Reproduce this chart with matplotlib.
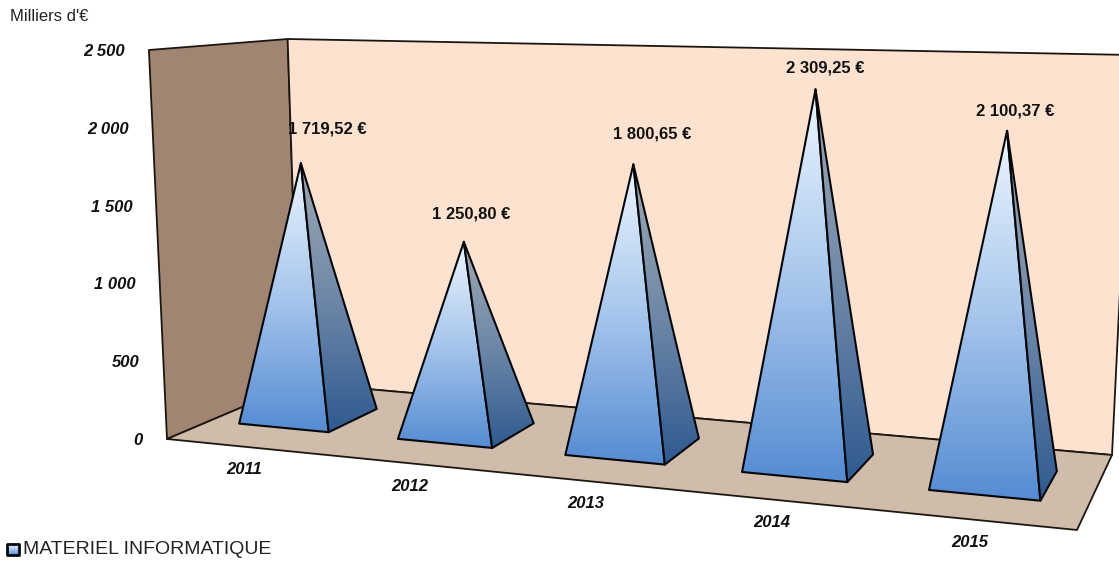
import numpy as np
import matplotlib
matplotlib.use('Agg')
import matplotlib.pyplot as plt
from matplotlib.colors import LinearSegmentedColormap
from matplotlib.patches import Polygon

years = ['2011', '2012', '2013', '2014', '2015']
values = [1719.52, 1250.80, 1800.65, 2309.25, 2100.37]
value_labels = ['1 719,52 €', '1 250,80 €', '1 800,65 €', '2 309,25 €', '2 100,37 €']
ticks = [0, 500, 1000, 1500, 2000, 2500]
tick_labels = ['0', '500', '1 000', '1 500', '2 000', '2 500']
series_name = 'MATERIEL INFORMATIQUE'

# where the box of the 3d chart lands in the image
floor_px = [(167, 439), (1077, 530), (1112, 455), (299, 383)]
# pixel height of the full value axis at the same four corners
axis_px = [389, 452, 400, 344]
vanish_px = (630, 10400)
half_w = 0.057
depth = (0.30, 0.70)
u_shift = -0.005
apex_drop = 3
label_off = [(26, -34), (7, -28), (19, -30), (10, -21), (8, -20)]

plt.rcParams['font.family'] = ['Liberation Sans', 'DejaVu Sans']


def plane_matrix(pts):
    uv = [(0, 0), (1, 0), (1, 1), (0, 1)]
    A, b = [], []
    for (u, v), (x, y) in zip(uv, pts):
        A.append([u, v, 1, 0, 0, 0, -u * x, -v * x])
        A.append([0, 0, 0, u, v, 1, -u * y, -v * y])
        b += [x, y]
    return np.append(np.linalg.solve(np.array(A, float), np.array(b, float)), 1).reshape(3, 3)


H = plane_matrix(floor_px)


def project(u, v, val=0):
    p = H @ np.array([u, v, 1.0])
    x, y = p[0] / p[2], p[1] / p[2]
    near = axis_px[0] + (axis_px[1] - axis_px[0]) * u
    far = axis_px[3] + (axis_px[2] - axis_px[3]) * u
    rise = (near + (far - near) * v) * val / ticks[-1]
    # verticals lean towards a vanishing point far below the chart
    lean = (x - vanish_px[0]) / (vanish_px[1] - y)
    return x + lean * rise, y - rise


front_cmap = LinearSegmentedColormap.from_list('f', ['#eef6ff', '#a6c6ec', '#558bd2'])
side_cmap = LinearSegmentedColormap.from_list('s', ['#a0a9b2', '#6f88a8', '#2f5a90'])

fig = plt.figure(figsize=(11.19, 5.61), dpi=100)
ax = fig.add_axes([0, 0, 1, 1])
ax.set_axis_off()

z = [10]


def face(pts, color, lw=1.3):
    ax.add_patch(Polygon(pts, closed=True, facecolor=color, edgecolor='#1c1610', lw=lw, joinstyle='round', zorder=z[0]))
    z[0] += 1


def shaded(pts, cmap, lw=1.5):
    pts = np.array(pts)
    grad = np.linspace(0, 1, 256).reshape(-1, 1)
    im = ax.imshow(grad, cmap=cmap, aspect='auto', interpolation='bilinear', zorder=z[0],
                   extent=[pts[:, 0].min(), pts[:, 0].max(), pts[:, 1].max(), pts[:, 1].min()])
    poly = Polygon(pts, closed=True, facecolor='none', edgecolor='#05070c', lw=lw, joinstyle='round', zorder=z[0] + 1)
    ax.add_patch(poly)
    im.set_clip_path(poly)
    z[0] += 2


# walls and floor
top = ticks[-1]
face([project(0, 0), project(0, 1), project(0, 1, top), project(0, 0, top)], '#a08572')
face([project(0, 1), project(1, 1), project(1, 1, top), project(0, 1, top)], '#fde2d0')
face([project(0, 0), project(1, 0), project(1, 1), project(0, 1)], '#cfbcab')

for i, val in enumerate(values):
    uc = (i + 0.5) / len(values) + u_shift
    fl = project(uc - half_w, depth[0])
    fr = project(uc + half_w, depth[0])
    br = project(uc + half_w, depth[1])
    ax_, ay_ = project(uc, sum(depth) / 2, val)
    apex = (ax_, ay_ + apex_drop)
    shaded([apex, fl, fr], front_cmap)
    shaded([apex, fr, br], side_cmap)
    ax.text(apex[0] + label_off[i][0], apex[1] + label_off[i][1], value_labels[i], ha='center', va='center',
            fontsize=12, fontweight='bold', color='#111111', zorder=100)
    cx, cy = project(uc, 0)
    ax.text(cx + 1, cy + 23, years[i], ha='center', va='center', fontsize=12,
            fontweight='bold', fontstyle='italic', color='#111111', zorder=100)

for t, lab in zip(ticks, tick_labels):
    x, y = project(0, 0, t)
    ax.text(x - 24, y + 1.5, lab, ha='right', va='center', fontsize=12,
            fontweight='bold', fontstyle='italic', color='#111111', zorder=100)

ax.text(10, 16, "Milliers d'€", ha='left', va='center', fontsize=12, color='#222222', zorder=100)
ax.text(23, 549, series_name, ha='left', va='center', fontsize=14, color='#222222', zorder=100)
shaded([(7, 544), (19, 544), (19, 555), (7, 555)], front_cmap, lw=2)

ax.set_xlim(0, 1119)
ax.set_ylim(561, 0)
fig.savefig('out.png', dpi=100)
